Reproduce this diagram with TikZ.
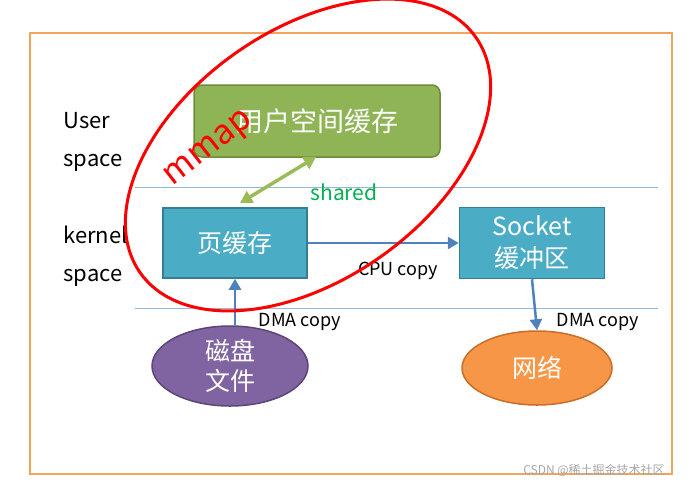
\documentclass[tikz,border=0pt]{standalone}
\usepackage{fontspec}
\setmainfont{Noto Sans CJK SC}
\usetikzlibrary{arrows.meta,shapes.geometric}
\definecolor{bbox}{HTML}{4BACC6}
\definecolor{bline}{HTML}{357D91}
\definecolor{arr}{HTML}{4F81BD}
\tikzset{
 cachebox/.style={draw=bline,line width=1.5pt,fill=bbox,text=white,font=\fontsize{25}{32}\selectfont,align=center},
 flow/.style={draw=arr,line width=2.5pt,-{Triangle[length=11pt,width=12pt]}},
 lbl/.style={font=\fontsize{22}{38}\selectfont,align=left,anchor=west},
 small/.style={font=\fontsize{18}{20}\selectfont}
}
\begin{document}
\begin{tikzpicture}[x=1pt,y=-1pt]
\useasboundingbox (0,0) rectangle (700,493);
\draw[draw={rgb,255:red,240;green,165;blue,90},line width=2pt] (30,33) rectangle (672,474);
\draw[draw={rgb,255:red,150;green,185;blue,215},line width=0.8pt] (135,187) -- (658,187) (135,308) -- (658,308);
\node[lbl] (us) at (60,142) {User\\space};
\node[lbl] (ks) at (60,256) {kernel\\space};
\node[draw={rgb,255:red,110;green,140;blue,60},line width=1.5pt,fill={rgb,255:red,142;green,180;blue,85},rounded corners=8pt,text=white,minimum width=246pt,minimum height=72pt,font=\fontsize{27}{30}\selectfont] (ub) at (317,121) {用户空间缓存};
\node[cachebox,minimum width=144pt,minimum height=70pt] (pc) at (235,243) {页缓存};
\node[cachebox,minimum width=145pt,minimum height=71pt,inner sep=2pt] (sb) at (532,243) {Socket\\缓冲区};
\node[ellipse,draw={rgb,255:red,90;green,70;blue,120},line width=1.5pt,fill={rgb,255:red,128;green,100;blue,162},text=white,minimum width=156pt,minimum height=80pt,align=center,inner sep=0pt,font=\fontsize{25}{30}\selectfont] (disk) at (230,366) {磁盘\\文件};
\node[ellipse,draw={rgb,255:red,200;green,110;blue,40},line width=1.5pt,fill={rgb,255:red,247;green,150;blue,70},text=white,minimum width=150pt,minimum height=74pt,font=\fontsize{25}{30}\selectfont] (net) at (537,368) {网络};
\draw[flow] (disk.north -| pc.south) -- (pc.south);
\draw[flow] (pc.east) -- (sb.west);
\draw[flow] (sb.south) -- (net.north);
\node[small] (l1) at (300,322) {DMA copy};
\node[small] (l2) at (398,271) {CPU copy};
\node[small] (l3) at (598,322) {DMA copy};
\coordinate (sa) at (240,203);
\coordinate (sb2) at (316,157);
\draw[draw={rgb,255:red,155;green,187;blue,89},line width=3.5pt,{Triangle[length=12pt,width=13pt]}-{Triangle[length=12pt,width=13pt]}] (sa) -- (sb2);
\node[text={rgb,255:red,0;green,176;blue,80},font=\fontsize{21}{24}\selectfont] (sh) at (344,192) {shared};
\node[ellipse,draw=red,line width=3pt,minimum width=410pt,minimum height=250pt,rotate=35] (mm) at (308,155) {};
\node[text=red,rotate=38,font=\fontsize{34}{38}\selectfont] (mt) at (210,150) {mmap};
\node[text=gray!70,font=\fontsize{12}{14}\selectfont] (wm) at (594,470) {CSDN @稀土掘金技术社区};
\end{tikzpicture}
\end{document}
